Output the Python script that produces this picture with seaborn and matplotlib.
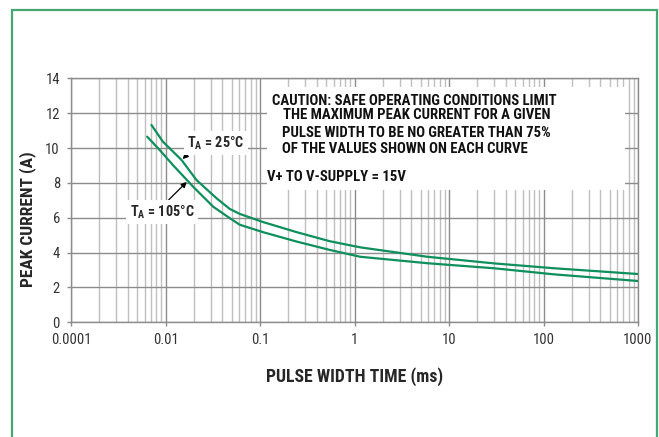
import matplotlib
matplotlib.use("Agg")
import matplotlib.pyplot as plt
import matplotlib.ticker as mticker
from matplotlib import font_manager
from matplotlib.patches import Rectangle
import seaborn as sns
import pandas as pd
import numpy as np

# peak current (A) vs pulse width (ms)
width_25 = [0.0071, 0.0094, 0.0148, 0.0213, 0.0348, 0.048, 0.061, 0.108,
            0.245, 0.55, 1.15, 5.9, 30, 130, 1000]
current_25 = [11.32, 10.36, 9.31, 8.16, 7.11, 6.50, 6.22, 5.75,
              5.17, 4.65, 4.30, 3.76, 3.38, 3.10, 2.77]
width_105 = [0.0064, 0.0087, 0.012, 0.0196, 0.032, 0.048, 0.061, 0.108,
             0.245, 0.55, 1.15, 5.9, 30, 130, 1000]
current_105 = [10.65, 9.88, 9.02, 7.78, 6.63, 5.97, 5.60, 5.17,
               4.63, 4.15, 3.76, 3.39, 3.10, 2.75, 2.37]

# the first decade of the original axis is labelled 0.0001
x_ticks = [0.001, 0.01, 0.1, 1, 10, 100, 1000]
x_tick_labels = ["0.0001", "0.01", "0.1", "1", "10", "100", "1000"]
y_ticks = [0, 2, 4, 6, 8, 10, 12, 14]

caution_lines = [
    "CAUTION: SAFE OPERATING CONDITIONS LIMIT",
    "THE MAXIMUM PEAK CURRENT FOR A GIVEN",
    "PULSE WIDTH TO BE NO GREATER THAN 75%",
    "OF THE VALUES SHOWN ON EACH CURVE",
]
supply_note = "V+ TO V-SUPPLY = 15V"

GREEN = "#0e8f5c"
BORDER = "#45a873"
GRID_DARK = "#8c8c8c"
GRID_LIGHT = "#bfbfbf"

W, H = 659, 437

sns.set_theme(style="white")

available = {f.name for f in font_manager.fontManager.ttflist}
narrow = next((n for n in ["Liberation Sans Narrow", "Roboto Condensed",
                           "Liberation Sans"] if n in available), "DejaVu Sans")
plt.rcParams["font.family"] = [narrow, "DejaVu Sans"]
plt.rcParams["mathtext.fontset"] = "custom"
plt.rcParams["mathtext.rm"] = narrow + ":bold"


def fig_xy(px, py):
    return px / W, 1 - py / H


df = pd.concat([
    pd.DataFrame({"width": width_25, "current": current_25, "temp": "25"}),
    pd.DataFrame({"width": width_105, "current": current_105, "temp": "105"}),
])

fig = plt.figure(figsize=(W / 100, H / 100), dpi=100)
ax = fig.add_axes([71 / W, 1 - 322.3 / H, 567 / W, 244 / H])

sns.lineplot(data=df, x="width", y="current", hue="temp",
             palette=[GREEN, GREEN], estimator=None, sort=False,
             legend=False, lw=1.6, ax=ax, zorder=3)

ax.set_xscale("log")
ax.set_xlim(0.001, 1000)
ax.set_ylim(0, 14)
ax.set_xticks(x_ticks)
ax.set_xticklabels(x_tick_labels)
ax.xaxis.set_minor_locator(mticker.LogLocator(base=10, subs=range(2, 10), numticks=20))
ax.xaxis.set_minor_formatter(mticker.NullFormatter())
ax.set_yticks(y_ticks)

ax.grid(which="major", axis="both", color=GRID_DARK, lw=1)
ax.grid(which="minor", axis="x", color=GRID_LIGHT, lw=1)
ax.set_axisbelow(True)
for s in ax.spines.values():
    s.set_color(GRID_DARK)
    s.set_linewidth(1)

ax.tick_params(which="major", bottom=True, left=True, direction="out",
               length=3, width=1, color=GRID_DARK, labelsize=10.5,
               labelcolor="#333333", pad=5)
ax.tick_params(which="minor", length=0)

ax.set_xlabel("PULSE WIDTH TIME (ms)", fontsize=12.8, fontweight="bold")
ax.set_ylabel("PEAK CURRENT (A)", fontsize=12.5, fontweight="bold")
ax.xaxis.set_label_coords(0.5, (322.3 - 377) / 244)
ax.xaxis.label.set_va("center")
ax.yaxis.set_label_coords((28 - 71) / 567, (322.3 - 219.5) / 244)
ax.yaxis.label.set_va("center")

# white panel behind the caution note
x0, y0 = fig_xy(267, 190)
ax.add_patch(Rectangle((x0, y0), (625 - 267) / W, (190 - 87) / H,
                       transform=fig.transFigure, fc="white", ec="none",
                       zorder=1.5))

centers = [414.5, 416.5, 416, 405]
rows = [101, 115, 133, 149]
for line, cx, cy in zip(caution_lines, centers, rows):
    fx, fy = fig_xy(cx, cy)
    fig.text(fx, fy, line, ha="center", va="center", fontsize=10.6,
             fontweight="bold", color="#111111")
fx, fy = fig_xy(267, 177)
fig.text(fx, fy, supply_note, ha="left", va="center", fontsize=10.6,
         fontweight="bold", color="#111111")

arrow = dict(arrowstyle="-|>", color="black", lw=0.9, shrinkA=0, shrinkB=1,
             mutation_scale=8)
ax.annotate(r"T$_{\rm A}$ = 25°C", xy=(width_25[2], current_25[2]),
            xytext=fig_xy(216, 143), textcoords="figure fraction",
            ha="center", va="center", fontsize=10.3, fontweight="bold",
            bbox=dict(fc="white", ec="none", pad=2.5),
            arrowprops=dict(arrow, relpos=(0.05, 0.0)), zorder=4)
x_lbl = 0.0172
y_lbl = np.interp(np.log10(x_lbl), np.log10(width_105), current_105)
ax.annotate(r"T$_{\rm A}$ = 105°C", xy=(x_lbl, y_lbl),
            xytext=fig_xy(162, 212), textcoords="figure fraction",
            ha="center", va="center", fontsize=10.3, fontweight="bold",
            bbox=dict(fc="white", ec="none", pad=2.5),
            arrowprops=dict(arrow, relpos=(0.55, 1.0)), zorder=4)

# green frame around the figure
bx, by = fig_xy(12, 500)
fig.patches.append(Rectangle((bx, by), (657 - 12) / W, (500 - 10) / H,
                             transform=fig.transFigure, fill=False,
                             ec=BORDER, lw=1.6))

fig.savefig("out.png", dpi=100)
plt.close(fig)
